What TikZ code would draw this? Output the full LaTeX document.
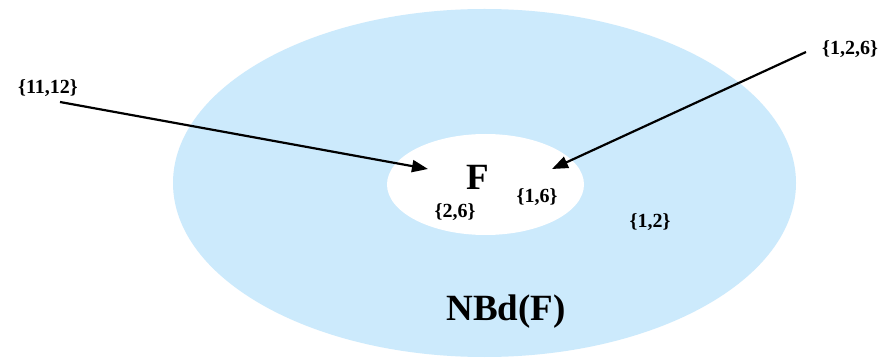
\documentclass[tikz,border=0pt]{standalone}
\usepackage{fontspec}
\setmainfont{Liberation Serif}
\usetikzlibrary{arrows.meta}
\definecolor{nbdblue}{RGB}{204,234,252}
\begin{document}
\begin{tikzpicture}[x=1pt,y=-1pt,
  region/.style={fill=#1,draw=none},
  small/.style={font=\fontsize{20}{20}\selectfont\bfseries,inner sep=0pt},
  big/.style={font=\fontsize{37}{37}\selectfont\bfseries,inner sep=0pt},
  arr/.style={line width=2.2pt,-{Triangle[length=16pt,width=12pt]}}]
\useasboundingbox (0,0) rectangle (887,358);
\fill[white] (0,0) rectangle (887,358);
\path[region=nbdblue] (484.5,183) ellipse [x radius=311.5,y radius=174];
\path[region=white] (485.5,184.5) ellipse [x radius=98.5,y radius=50.5];
\node[big] (F) at (478,177) {F};
\node[big] (nbd) at (506,312) {NBd(F)};
\node[small] (l26) at (455,212) {\{2,6\}};
\node[small] (l16) at (537,197) {\{1,6\}};
\node[small] (l12) at (650,222) {\{1,2\}};
\node[small] (l126) at (850,49) {\{1,2,6\}};
\node[small] (l1112) at (48,88) {\{11,12\}};
\coordinate (s1) at (60,102);
\coordinate (t1) at (428,169);
\coordinate (s2) at (806,52);
\coordinate (t2) at (552,169);
\draw[arr] (s1) -- (t1);
\draw[arr] (s2) -- (t2);
\end{tikzpicture}
\end{document}
